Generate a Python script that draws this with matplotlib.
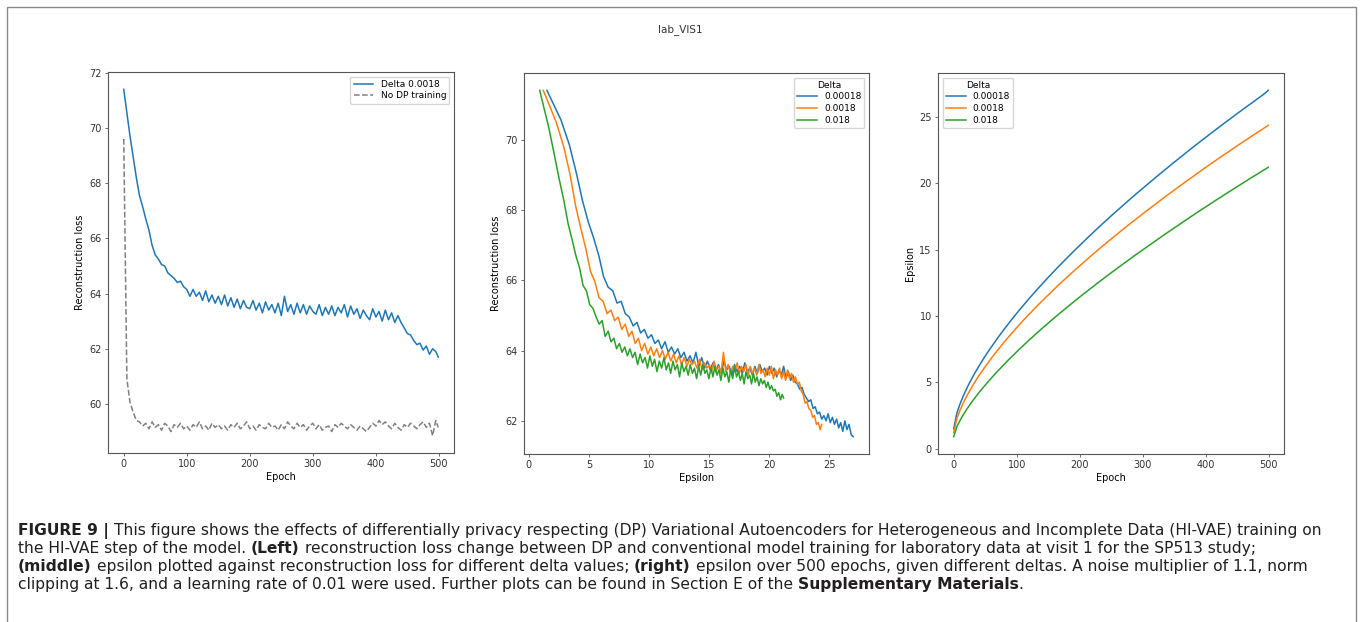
import matplotlib
matplotlib.use("Agg")
import matplotlib.pyplot as plt
from matplotlib import font_manager
from matplotlib.font_manager import FontProperties
from matplotlib.textpath import TextPath
from matplotlib.patches import Rectangle

# epochs at which the runs were logged (every 5th epoch, plus the last one)
epochs = list(range(0, 500, 5)) + [499]

# left panel: reconstruction loss per epoch
loss_delta_0018 = [
    71.40, 70.55, 69.70, 68.95, 68.20, 67.55, 67.15, 66.70, 66.30, 65.75,
    65.40, 65.25, 65.05, 65.00, 64.75, 64.65, 64.55, 64.40, 64.45, 64.25,
    64.15, 63.90, 64.15, 63.90, 64.05, 63.75, 64.10, 63.70, 63.95, 63.65,
    63.90, 63.60, 63.95, 63.55, 63.85, 63.50, 63.80, 63.45, 63.75, 63.50,
    63.45, 63.75, 63.40, 63.65, 63.30, 63.70, 63.40, 63.60, 63.30, 63.65,
    63.20, 63.90, 63.35, 63.60, 63.25, 63.65, 63.30, 63.60, 63.25, 63.55,
    63.35, 63.25, 63.60, 63.20, 63.50, 63.25, 63.55, 63.20, 63.50, 63.30,
    63.60, 63.15, 63.55, 63.25, 63.45, 63.10, 63.40, 63.20, 63.05, 63.45,
    63.15, 63.35, 63.00, 63.40, 63.05, 63.30, 62.95, 63.20, 62.95, 62.75,
    62.55, 62.50, 62.30, 62.15, 62.20, 61.95, 62.10, 61.80, 62.00, 61.90,
    61.70]
loss_no_dp = [
    69.60, 60.90, 60.05, 59.70, 59.40, 59.35, 59.20, 59.30, 59.10, 59.35,
    59.15, 59.25, 59.05, 59.30, 59.20, 59.00, 59.25, 59.15, 59.30, 59.10,
    59.20, 59.05, 59.25, 59.15, 59.35, 59.10, 59.20, 59.05, 59.30, 59.15,
    59.25, 59.10, 59.20, 59.05, 59.25, 59.15, 59.30, 59.10, 59.20, 59.35,
    59.10, 59.20, 59.05, 59.25, 59.15, 59.10, 59.30, 59.15, 59.20, 59.05,
    59.25, 59.10, 59.35, 59.20, 59.10, 59.30, 59.15, 59.25, 59.05, 59.20,
    59.30, 59.10, 59.25, 59.05, 59.15, 59.20, 59.00, 59.25, 59.15, 59.30,
    59.20, 59.10, 59.25, 59.15, 59.05, 59.20, 59.10, 59.00, 59.15, 59.30,
    59.20, 59.40, 59.25, 59.35, 59.20, 59.10, 59.30, 59.15, 59.05, 59.25,
    59.15, 59.30, 59.20, 59.10, 59.25, 59.35, 59.15, 59.30, 58.85, 59.40,
    59.15]

deltas = ["0.00018", "0.0018", "0.018"]

# right panel: epsilon per epoch for each delta
eps_00018 = [
    1.50, 2.68, 3.37, 3.95, 4.47, 4.95, 5.39, 5.82, 6.22, 6.60,
    6.98, 7.34, 7.68, 8.02, 8.36, 8.68, 9.00, 9.30, 9.61, 9.91,
    10.20, 10.49, 10.77, 11.05, 11.33, 11.60, 11.87, 12.13, 12.39, 12.65,
    12.91, 13.16, 13.41, 13.66, 13.90, 14.14, 14.38, 14.62, 14.86, 15.09,
    15.32, 15.55, 15.78, 16.01, 16.23, 16.46, 16.68, 16.90, 17.11, 17.33,
    17.55, 17.76, 17.97, 18.18, 18.39, 18.60, 18.81, 19.01, 19.22, 19.42,
    19.62, 19.82, 20.02, 20.22, 20.42, 20.62, 20.81, 21.01, 21.20, 21.40,
    21.59, 21.78, 21.97, 22.16, 22.35, 22.54, 22.73, 22.91, 23.10, 23.28,
    23.46, 23.65, 23.83, 24.01, 24.19, 24.37, 24.55, 24.73, 24.90, 25.08,
    25.26, 25.43, 25.61, 25.78, 25.95, 26.12, 26.30, 26.47, 26.64, 26.83,
    27.00]
eps_0018 = [
    1.20, 2.27, 2.90, 3.43, 3.90, 4.34, 4.74, 5.13, 5.50, 5.84,
    6.18, 6.51, 6.83, 7.14, 7.44, 7.73, 8.02, 8.31, 8.58, 8.85,
    9.12, 9.38, 9.64, 9.90, 10.15, 10.39, 10.64, 10.88, 11.12, 11.35,
    11.58, 11.81, 12.04, 12.27, 12.49, 12.71, 12.93, 13.15, 13.36, 13.57,
    13.78, 13.99, 14.20, 14.41, 14.61, 14.81, 15.02, 15.22, 15.41, 15.61,
    15.81, 16.00, 16.19, 16.39, 16.58, 16.77, 16.96, 17.14, 17.33, 17.51,
    17.70, 17.88, 18.06, 18.24, 18.42, 18.60, 18.78, 18.96, 19.14, 19.31,
    19.49, 19.66, 19.84, 20.01, 20.18, 20.35, 20.52, 20.69, 20.86, 21.03,
    21.20, 21.36, 21.53, 21.69, 21.86, 22.02, 22.18, 22.34, 22.51, 22.67,
    22.83, 22.99, 23.14, 23.30, 23.46, 23.62, 23.77, 23.93, 24.08, 24.24,
    24.36]
eps_018 = [
    0.90, 1.65, 2.13, 2.54, 2.92, 3.27, 3.60, 3.91, 4.22, 4.51,
    4.79, 5.07, 5.33, 5.60, 5.85, 6.10, 6.35, 6.60, 6.83, 7.07,
    7.30, 7.53, 7.75, 7.98, 8.20, 8.41, 8.63, 8.84, 9.05, 9.26,
    9.46, 9.67, 9.87, 10.07, 10.27, 10.46, 10.66, 10.85, 11.05, 11.24,
    11.43, 11.62, 11.80, 11.99, 12.17, 12.36, 12.54, 12.72, 12.90, 13.08,
    13.26, 13.43, 13.61, 13.78, 13.96, 14.13, 14.30, 14.48, 14.65, 14.81,
    14.98, 15.15, 15.32, 15.48, 15.65, 15.82, 15.98, 16.15, 16.31, 16.47,
    16.64, 16.79, 16.96, 17.12, 17.28, 17.44, 17.60, 17.76, 17.91, 18.07,
    18.22, 18.38, 18.53, 18.69, 18.84, 18.99, 19.15, 19.30, 19.45, 19.60,
    19.75, 19.90, 20.05, 20.20, 20.35, 20.50, 20.64, 20.79, 20.94, 21.08,
    21.20]

# middle panel: reconstruction loss of the three runs (same epochs as above)
mid_loss_00018 = [
    71.40, 70.55, 69.85, 69.05, 68.25, 67.65, 67.20, 66.70, 66.10, 65.80,
    65.70, 65.35, 65.40, 65.05, 64.95, 64.70, 64.80, 64.50, 64.60, 64.35,
    64.45, 64.20, 64.30, 64.05, 64.25, 63.95, 64.10, 63.90, 64.05, 63.80,
    63.95, 63.70, 63.85, 63.65, 63.95, 63.55, 63.80, 63.50, 63.70, 63.45,
    63.65, 63.40, 63.60, 63.35, 63.70, 63.45, 63.55, 63.30, 63.60, 63.40,
    63.55, 63.35, 63.65, 63.40, 63.50, 63.30, 63.55, 63.35, 63.60, 63.40,
    63.50, 63.30, 63.55, 63.35, 63.50, 63.25, 63.45, 63.30, 63.55, 63.20,
    63.40, 63.15, 63.30, 63.10, 63.05, 62.90, 62.95, 62.75, 62.65, 62.55,
    62.60, 62.35, 62.40, 62.20, 62.25, 62.05, 62.15, 62.00, 62.20, 61.95,
    62.10, 61.90, 62.05, 61.80, 61.95, 61.70, 62.00, 61.75, 61.90, 61.60,
    61.55]
mid_loss_0018 = [
    71.40, 70.50, 69.80, 69.00, 68.10, 67.45, 66.90, 66.25, 65.95, 65.50,
    65.40, 65.05, 65.15, 64.85, 64.95, 64.60, 64.75, 64.40, 64.55, 64.20,
    64.35, 64.00, 64.20, 63.90, 64.10, 63.85, 64.05, 63.80, 64.00, 63.75,
    63.95, 63.70, 63.90, 63.65, 63.85, 63.60, 63.80, 63.55, 63.75, 63.60,
    63.70, 63.50, 63.75, 63.45, 63.65, 63.50, 63.60, 63.40, 63.70, 63.45,
    63.55, 63.35, 63.95, 63.40, 63.60, 63.35, 63.55, 63.40, 63.65, 63.35,
    63.55, 63.40, 63.60, 63.30, 63.55, 63.35, 63.50, 63.30, 63.60, 63.35,
    63.45, 63.25, 63.50, 63.30, 63.55, 63.20, 63.45, 63.30, 63.50, 63.20,
    63.40, 63.15, 63.45, 63.20, 63.35, 63.10, 63.25, 63.05, 63.10, 62.85,
    62.75, 62.50, 62.55, 62.35, 62.30, 62.10, 62.15, 61.90, 61.95, 61.75,
    61.90]
mid_loss_018 = [
    71.40, 70.35, 69.55, 68.85, 68.25, 67.60, 67.15, 66.70, 66.35, 65.85,
    65.70, 65.30, 65.20, 64.95, 64.75, 64.85, 64.40, 64.55, 64.25, 64.35,
    64.05, 64.20, 63.95, 64.10, 63.85, 64.05, 63.80, 63.95, 63.60, 63.90,
    63.65, 63.80, 63.50, 63.85, 63.55, 63.75, 63.40, 63.70, 63.50, 63.80,
    63.45, 63.65, 63.35, 63.70, 63.45, 63.60, 63.25, 63.65, 63.40, 63.55,
    63.30, 63.60, 63.35, 63.50, 63.20, 63.55, 63.30, 63.60, 63.35, 63.45,
    63.20, 63.50, 63.25, 63.55, 63.30, 63.45, 63.15, 63.50, 63.25, 63.40,
    63.10, 63.45, 63.20, 63.55, 63.25, 63.40, 63.15, 63.35, 63.05, 63.40,
    63.20, 63.30, 63.05, 63.35, 63.10, 63.25, 63.00, 63.20, 63.05, 63.15,
    62.95, 63.10, 62.90, 63.00, 62.85, 62.90, 62.70, 62.80, 62.60, 62.75,
    62.65]

caption = [
    [("FIGURE 9 |", True, False),
     ("This figure shows the effects of differentially privacy respecting (DP) Variational Autoencoders "
      "for Heterogeneous and Incomplete Data (HI-VAE) training on", False, True)],
    [("the HI-VAE step of the model.", False, False), ("(Left)", True, True),
     ("reconstruction loss change between DP and conventional model training for laboratory data at "
      "visit 1 for the SP513 study;", False, True)],
    [("(middle)", True, False),
     ("epsilon plotted against reconstruction loss for different delta values;", False, True),
     ("(right)", True, True),
     ("epsilon over 500 epochs, given different deltas. A noise multiplier of 1.1, norm", False, True)],
    [("clipping at 1.6, and a learning rate of 0.01 were used. Further plots can be found in Section E of the",
      False, False), ("Supplementary Materials", True, True), (".", False, False)],
]

W, H = 1360, 622
COLORS = ["#1f77b4", "#ff7f0e", "#2ca02c"]


def px_box(x0, y0, x1, y1):
    return [x0 / W, 1 - y1 / H, (x1 - x0) / W, (y1 - y0) / H]


def style(ax):
    for s in ax.spines.values():
        s.set_color("#555555")
        s.set_linewidth(0.8)
    ax.tick_params(labelsize=7, labelcolor="#333333", color="#555555",
                   length=2.5, width=0.6, pad=2)


def main():
    fig = plt.figure(figsize=(W / 100, H / 100), dpi=100)

    fig.add_artist(Rectangle((7 / W, -0.05), (1356 - 7) / W, 1 - 7 / H + 0.05,
                             transform=fig.transFigure, fill=False,
                             edgecolor="#8a8a8a", linewidth=1.0, clip_on=False))
    fig.text(0.5, 1 - 30 / H, "lab_VIS1", ha="center", va="center", fontsize=7.5, color="#333333")

    lw = 1.1
    leg = dict(fontsize=6.5, title_fontsize=6.5, handlelength=2.2, borderpad=0.35, labelspacing=0.3)
    # left
    ax1 = fig.add_axes(px_box(108, 72, 454, 453))
    ax1.plot(epochs, loss_delta_0018, color=COLORS[0], lw=lw, label="Delta 0.0018")
    ax1.plot(epochs, loss_no_dp, color="gray", lw=lw, ls="--", label="No DP training")
    ax1.set_xlabel("Epoch", fontsize=7, labelpad=2)
    ax1.set_ylabel("Reconstruction loss", fontsize=7, labelpad=3)
    ax1.legend(loc="upper right", **leg)
    style(ax1)

    # middle
    ax2 = fig.add_axes(px_box(524, 73, 869, 454))
    for eps, loss, d, c in zip([eps_00018, eps_0018, eps_018],
                               [mid_loss_00018, mid_loss_0018, mid_loss_018], deltas, COLORS):
        ax2.plot(eps, loss, color=c, lw=lw, label=d)
    ax2.set_xlabel("Epsilon", fontsize=7, labelpad=2)
    ax2.set_ylabel("Reconstruction loss", fontsize=7, labelpad=3)
    ax2.legend(title="Delta", loc="upper right", **leg)
    style(ax2)

    # right
    ax3 = fig.add_axes(px_box(938, 73, 1284, 454))
    for eps, d, c in zip([eps_00018, eps_0018, eps_018], deltas, COLORS):
        ax3.plot(epochs, eps, color=c, lw=lw, label=d)
    ax3.set_xlabel("Epoch", fontsize=7, labelpad=2)
    ax3.set_ylabel("Epsilon", fontsize=7, labelpad=3)
    ax3.legend(title="Delta", loc="upper left", **leg)
    style(ax3)

    # caption with mixed bold/regular runs
    renderer = fig.canvas.get_renderer()

    def width(s, size, font, bold=False):
        t = fig.text(0, 0, s, fontsize=size, family=font, fontweight="bold" if bold else "normal")
        w = t.get_window_extent(renderer).width
        t.remove()
        return w

    def line_width(segs, size, font):
        sp = width("a a", size, font) - width("aa", size, font)
        return sum(width(s, size, font, b) + (sp if gap else 0) for s, b, gap in segs)

    # pick the installed sans whose width-fitted size gives a cap height closest to the reference (~11.5 px)
    names = {f.name for f in font_manager.fontManager.ttflist}
    candidates = [n for n in ["Liberation Sans", "Liberation Sans Narrow", "Roboto", "Roboto Condensed",
                              "Lato", "Open Sans", "Noto Sans", "Inter", "DejaVu Sans"] if n in names]
    best = None
    for font in candidates:
        size = 10 * (1322 - 18) / line_width(caption[0], 10, font)
        cap = TextPath((0, 0), "H", size=size, prop=FontProperties(family=font)).get_extents().height * 100 / 72
        if best is None or abs(cap - 11.5) < best[0]:
            best = (abs(cap - 11.5), font, size)
    _, font, size = best

    space = width("a a", size, font) - width("aa", size, font)
    baselines = [535, 553, 571, 589]
    for segs, yb in zip(caption, baselines):
        x = 18
        for s, b, gap in segs:
            if gap:
                x += space
            t = fig.text(x / W, 1 - yb / H, s, fontsize=size, family=font,
                         fontweight="bold" if b else "normal", va="baseline",
                         ha="left", color="#231f20")
            x += t.get_window_extent(renderer).width

    fig.savefig("out.png", dpi=100)


if __name__ == "__main__":
    main()
